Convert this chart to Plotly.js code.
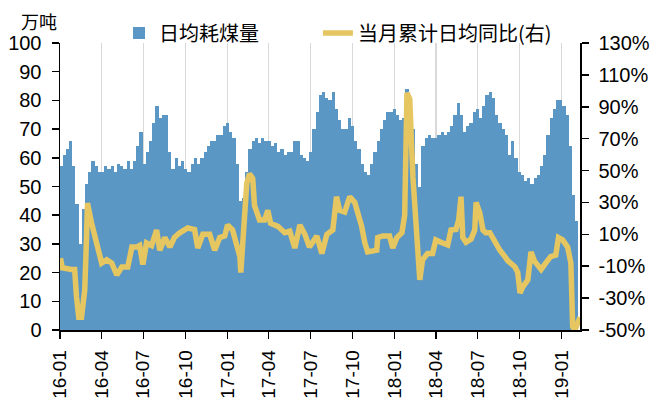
<!DOCTYPE html>
<html><head><meta charset="utf-8">
<script src="https://cdn.plot.ly/plotly-3.0.1.min.js"></script>
<style>html,body{margin:0;padding:0;background:#fff}</style>
</head><body><div id="chart" style="width:654px;height:401px"></div>
<script>
const weekDates = [
'2016-01-03','2016-01-10','2016-01-17','2016-01-24','2016-01-31','2016-02-07','2016-02-14','2016-02-21','2016-02-28','2016-03-06','2016-03-13','2016-03-20','2016-03-27','2016-04-03','2016-04-10','2016-04-17','2016-04-24','2016-05-01','2016-05-08','2016-05-15','2016-05-22','2016-05-29','2016-06-05','2016-06-12','2016-06-19','2016-06-26','2016-07-03','2016-07-10','2016-07-17','2016-07-24','2016-07-31','2016-08-07','2016-08-14','2016-08-21','2016-08-28','2016-09-04','2016-09-11','2016-09-18','2016-09-25','2016-10-02','2016-10-09','2016-10-16','2016-10-23','2016-10-30','2016-11-06','2016-11-13','2016-11-20','2016-11-27','2016-12-04','2016-12-11','2016-12-18','2016-12-25',
'2017-01-01','2017-01-08','2017-01-15','2017-01-22','2017-01-29','2017-02-05','2017-02-12','2017-02-19','2017-02-26','2017-03-05','2017-03-12','2017-03-19','2017-03-26','2017-04-02','2017-04-09','2017-04-16','2017-04-23','2017-04-30','2017-05-07','2017-05-14','2017-05-21','2017-05-28','2017-06-04','2017-06-11','2017-06-18','2017-06-25','2017-07-02','2017-07-09','2017-07-16','2017-07-23','2017-07-30','2017-08-06','2017-08-13','2017-08-20','2017-08-27','2017-09-03','2017-09-10','2017-09-17','2017-09-24','2017-10-01','2017-10-08','2017-10-15','2017-10-22','2017-10-29','2017-11-05','2017-11-12','2017-11-19','2017-11-26','2017-12-03','2017-12-10','2017-12-17','2017-12-24','2017-12-31',
'2018-01-07','2018-01-14','2018-01-21','2018-01-28','2018-02-04','2018-02-11','2018-02-18','2018-02-25','2018-03-04','2018-03-11','2018-03-18','2018-03-25','2018-04-01','2018-04-08','2018-04-15','2018-04-22','2018-04-29','2018-05-06','2018-05-13','2018-05-20','2018-05-27','2018-06-03','2018-06-10','2018-06-17','2018-06-24','2018-07-01','2018-07-08','2018-07-15','2018-07-22','2018-07-29','2018-08-05','2018-08-12','2018-08-19','2018-08-26','2018-09-02','2018-09-09','2018-09-16','2018-09-23','2018-09-30','2018-10-07','2018-10-14','2018-10-21','2018-10-28','2018-11-04','2018-11-11','2018-11-18','2018-11-25','2018-12-02','2018-12-09','2018-12-16','2018-12-23','2018-12-30',
'2019-01-06','2019-01-13','2019-01-20','2019-01-27','2019-02-03'];

const dailyCoal = [
57,61,63,66,57,44,30,42,51,55, 59,57,55,55,57,56,57,55,58,57,
56,59,56,59,64,69,58,62,66,72, 78,74,75,75,62,56,60,57,59,56,
55,58,60,58,60,62,64,66,66,68, 68,71,72,69,67,58,45,46,55,63,
66,67,65,67,66,66,64,65,62,63, 61,62,62,66,66,61,60,59,62,70,
76,82,83,81,80,83,77,73,70,70, 74,71,66,63,58,55,54,58,62,66,
70,73,76,76,77,75,73,74,84,79, 70,58,50,64,67,68,67,67,68,69,
68,69,71,75,79,75,69,71,72,76, 77,74,78,82,83,81,75,72,70,68,
61,66,60,55,54,52,53,51,53,54, 57,61,68,74,77,80,80,78,75,64,
47,38];

const yoyDates = [
'2016-01-02','2016-01-06','2016-01-26','2016-02-02','2016-02-06','2016-02-11','2016-02-17','2016-02-24','2016-02-28','2016-03-01',
'2016-03-10','2016-03-21','2016-04-01','2016-04-12','2016-04-23','2016-05-04','2016-05-15','2016-05-28','2016-06-06','2016-06-16',
'2016-06-23','2016-06-30','2016-07-08','2016-07-19','2016-07-30','2016-08-06','2016-08-17','2016-08-28','2016-09-07','2016-09-18',
'2016-10-06','2016-10-21','2016-10-28','2016-11-08','2016-11-23','2016-12-04','2016-12-15','2016-12-26','2017-01-01','2017-01-12',
'2017-01-19','2017-01-28','2017-01-30','2017-02-07','2017-02-12','2017-02-18','2017-02-25','2017-03-01','2017-03-12','2017-03-23',
'2017-03-30','2017-04-05','2017-04-21','2017-05-06','2017-05-17','2017-05-28','2017-06-08','2017-06-19','2017-06-29','2017-07-15',
'2017-07-26','2017-08-06','2017-08-19','2017-08-27','2017-09-03','2017-09-14','2017-09-25','2017-10-06','2017-10-12','2017-10-21',
'2017-10-28','2017-11-03','2017-11-23','2017-11-25','2017-12-06','2017-12-21','2017-12-28','2018-01-06','2018-01-17','2018-01-23',
'2018-01-28','2018-02-03','2018-02-10','2018-02-18','2018-02-25','2018-03-03','2018-03-14','2018-03-25','2018-04-01','2018-04-12',
'2018-04-27','2018-05-04','2018-05-15','2018-05-21','2018-05-26','2018-05-30','2018-06-06','2018-06-17','2018-06-25','2018-06-28',
'2018-07-06','2018-07-13','2018-07-19','2018-07-28','2018-08-08','2018-08-19','2018-08-30','2018-09-05','2018-09-21','2018-09-27',
'2018-10-02','2018-10-08','2018-10-19','2018-10-26','2018-11-03','2018-11-17','2018-11-27','2018-12-08','2018-12-19','2018-12-25',
'2019-01-03','2019-01-14','2019-01-21','2019-01-25','2019-01-30','2019-02-05','2019-02-10'];

const yoyValues = [
-5,-11,-12,-12,-29,-42,-42,-25,8,29.6,
17,4.6,-8,-6,-8,-15.5,-10.5,-10.5,2,2,
3,-9,4.6,3,12.7,0,8,2,8,10.8,
14,13,1.4,10,10,0,8,9,15.9,12.7,
6.5,-4,-14,20,42,48,45,28,19,19,
25,17,15,11,12,1.4,15.9,10,2,9,
-2,10,12.7,33.6,25,24,33.6,30,25,15,
4.6,-1,0,8,9,9,1.4,8,11,22,
98.7,95,46,5,-18.6,-6,-2,-2,6.5,5,
3.3,12.7,13,19,33.6,8,5,7,12.7,30,
23.5,12.7,11,11,4.6,0,-4,-6.5,-10.5,-14,
-26.8,-23,-18.6,-1,-7,-12,-8,-4,-3,8,
6.5,2,-8,-48,-50,-44,-42];

const xTickVals = ['2016-01-01','2016-04-01','2016-07-01','2016-10-01','2017-01-01','2017-04-01','2017-07-01','2017-10-01','2018-01-01','2018-04-01','2018-07-01','2018-10-01','2019-01-01'];
const xTickText = ['16-01','16-04','16-07','16-10','17-01','17-04','17-07','17-10','18-01','18-04','18-07','18-10','19-01'];
const leftTickVals = [0,10,20,30,40,50,60,70,80,90,100];
const rightTickVals = [-50,-30,-10,10,30,50,70,90,110,130];
const rightTickText = rightTickVals.map(v => String(v) + '%');

const seriesNames = ['日均耗煤量', '当月累计日均同比(右)'];
const unitLabel = '万吨';

const WEEK_MS = 7 * 24 * 3600 * 1000;
const latin = 'Arial, "Liberation Sans", sans-serif';
const cjk = '"Noto Sans CJK SC", "Noto Sans", sans-serif';

const traces = [
  {
    type: 'bar', name: seriesNames[0], x: weekDates, y: dailyCoal,
    width: weekDates.map(() => WEEK_MS),
    marker: {color: '#5b97c4', line: {width: 0}},
    yaxis: 'y', hoverinfo: 'skip', legend: 'legend'
  },
  {
    type: 'scatter', mode: 'lines', name: seriesNames[1], x: yoyDates, y: yoyValues,
    line: {color: '#e5c660', width: 5.5},
    yaxis: 'y2', hoverinfo: 'skip', legend: 'legend2'
  }
];

const axisCommon = {
  ticks: 'outside', ticklen: 7, tickwidth: 1.5, tickcolor: '#000',
  showline: true, linecolor: '#000', linewidth: 1.5, zeroline: false,
  tickfont: {family: latin, size: 20, color: '#000'}
};

const legendCommon = {
  orientation: 'h', xanchor: 'left', y: 1.035, yanchor: 'middle',
  font: {family: cjk, size: 20, color: '#000'},
  bgcolor: 'rgba(0,0,0,0)', itemwidth: 30
};

const layout = {
  width: 654, height: 401,
  margin: {l: 60, r: 74, t: 43, b: 71, pad: 0},
  paper_bgcolor: '#fff', plot_bgcolor: '#fff',
  font: {family: latin, size: 20, color: '#000'},
  bargap: 0,
  showlegend: true,
  legend: Object.assign({}, legendCommon, {x: 0.1135}),
  legend2: Object.assign({}, legendCommon, {x: 0.496}),
  xaxis: Object.assign({}, axisCommon, {
    type: 'date', range: ['2016-01-01', '2019-02-10'],
    tickmode: 'array', tickvals: xTickVals, ticktext: xTickText, tickangle: -90,
    tickfont: {family: latin, size: 19, color: '#000'},
    showgrid: true, gridcolor: '#d9d9d9', gridwidth: 1.5, ticklabelstandoff: 4
  }),
  yaxis: Object.assign({}, axisCommon, {
    range: [0, 100], tickmode: 'array', tickvals: leftTickVals,
    showgrid: false, ticklabelstandoff: 6
  }),
  yaxis2: Object.assign({}, axisCommon, {
    overlaying: 'y', side: 'right', range: [-50, 130],
    tickmode: 'array', tickvals: rightTickVals, ticktext: rightTickText,
    showgrid: false, ticklabelstandoff: 6
  }),
  annotations: [{
    text: unitLabel, xref: 'paper', yref: 'paper', x: -0.04, y: 1.075,
    xanchor: 'center', yanchor: 'middle', showarrow: false,
    font: {family: cjk, size: 18, color: '#000'}
  }]
};

Plotly.newPlot('chart', traces, layout, {staticPlot: true, displayModeBar: false});
</script></body></html>
